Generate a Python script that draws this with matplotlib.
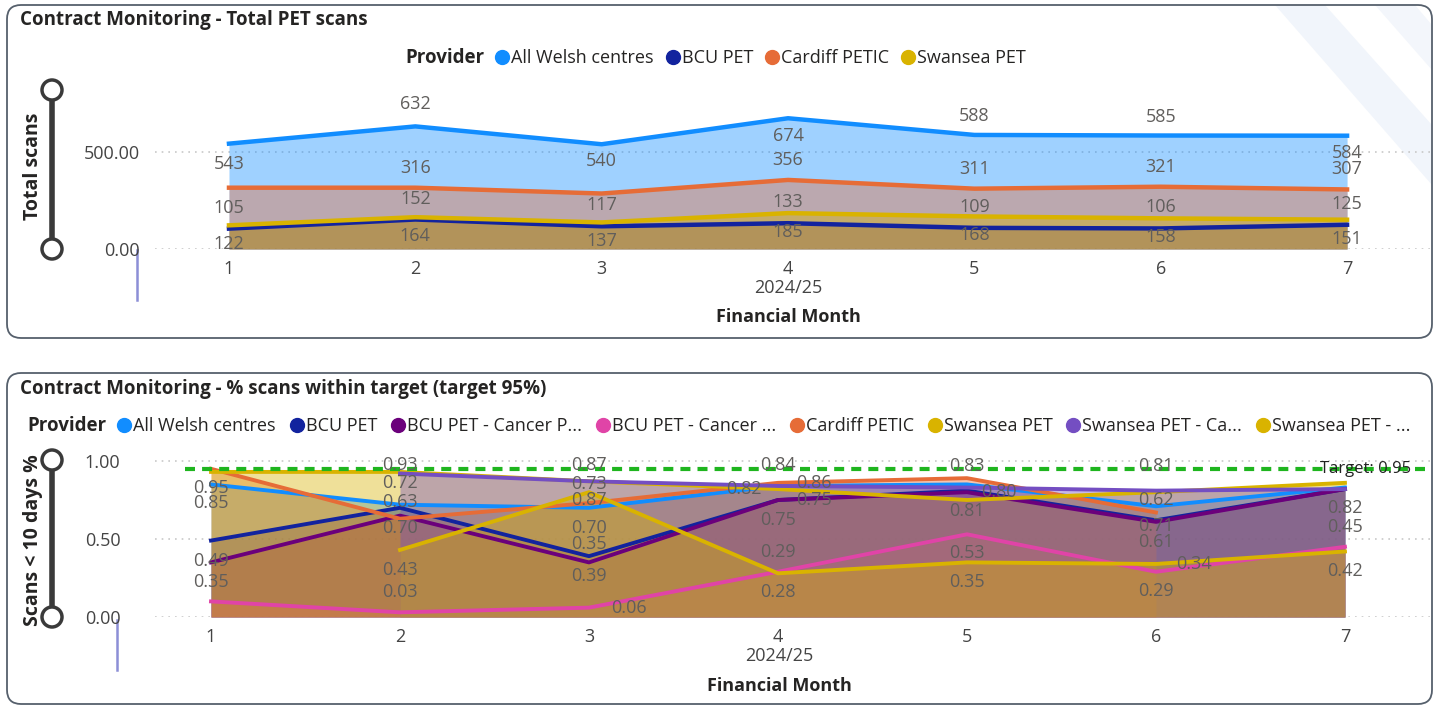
import matplotlib.pyplot as plt
import numpy as np
from matplotlib.lines import Line2D
from matplotlib.patches import FancyBboxPatch, Circle, Polygon

plt.rcParams['font.family'] = ['Open Sans', 'DejaVu Sans']

# ---- data ----
months = [1, 2, 3, 4, 5, 6, 7]
year_label = "2024/25"

# chart 1: total PET scans
scan_providers = ["All Welsh centres", "BCU PET", "Cardiff PETIC", "Swansea PET"]
scans_all = [543, 632, 540, 674, 588, 585, 584]
scans_bcu = [105, 152, 117, 133, 109, 106, 125]
scans_cardiff = [316, 316, 286, 356, 311, 321, 307]
scans_swansea = [122, 164, 137, 185, 168, 158, 151]

# chart 2: % scans within target
pct_providers = ["All Welsh centres", "BCU PET", "BCU PET - Cancer P...", "BCU PET - Cancer ...",
                 "Cardiff PETIC", "Swansea PET", "Swansea PET - Ca...", "Swansea PET - ..."]
nan = np.nan
pct_all = [0.85, 0.72, 0.70, 0.84, 0.85, 0.71, 0.83]
pct_bcu = [0.49, 0.70, 0.39, 0.75, 0.81, 0.62, 0.82]
pct_bcu_cp = [0.35, 0.65, 0.35, 0.75, 0.80, 0.61, 0.82]
pct_bcu_c = [0.10, 0.03, 0.06, 0.29, 0.53, 0.29, 0.45]
pct_cardiff = [0.95, 0.63, 0.73, 0.86, 0.89, 0.67, nan]
pct_swansea = [0.93, 0.93, 0.87, 0.82, 0.75, 0.80, 0.86]
pct_swansea_ca = [nan, 0.92, 0.87, 0.84, 0.83, 0.81, 0.82]
pct_swansea_o = [nan, 0.43, 0.80, 0.28, 0.35, 0.34, 0.42]
target = 0.95

# ---- styles ----
c_all, c_bcu, c_card, c_swan = "#118DFF", "#12239E", "#E66C37", "#D9B300"
c_bcp, c_bc, c_sca, c_so = "#6B007B", "#E044A7", "#744EC2", "#D9B300"
txt = "#252423"
lab = "#605E5C"
fs = 13      # regular text
fsb = 13.5   # bold headings

# label offsets in pixels (dx, dy up), None = label hidden
off1 = {
    "all": [(0, -20), (0, 22), (0, -17), (0, -18), (0, 19), (0, 19), (0, -17)],
    "bcu": [(0, 21)] * 7,
    "card": [None, (0, 20), None, (0, 20), (0, 20), (0, 20), (0, 20)],
    "swan": [(0, -19)] * 7,
}
off2 = [
    [(0, -19), (0, 22), (0, -20), None, None, (0, -20), None],
    [(0, -20), (0, -20), (0, -20), (36, 0), (0, -20), (0, 20), None],
    [(0, -20), None, (0, 18), (0, -20), (32, 0), (0, -20), None],
    [None, (0, 20), (40, 0), (0, 20), (0, -19), (0, -19), (0, 20)],
    [(0, -19), (0, 17), (0, 19), (36, 0), None, None, None],
    [None, (0, 7), (0, -19), (-34, 0), None, None, None],
    [None, None, (0, 16), (0, 21), (0, 22), (0, 25), (0, -19)],
    [None, (0, -20), None, (0, -19), (0, -20), (38, 0), (0, -20)],
]

W, H = 1439, 706
fig = plt.figure(figsize=(W / 100, H / 100), dpi=100)

bg = fig.add_axes([0, 0, 1, 1])
bg.set_xlim(0, W)
bg.set_ylim(H, 0)
bg.axis("off")

# faint background stripes (top right)
bg.add_patch(Polygon([(1275, 5), (1325, 5), (1432, 125), (1432, 185)], closed=True,
                     fc="#F1F5FB", ec="none"))
bg.add_patch(Polygon([(1375, 5), (1415, 5), (1432, 25), (1432, 70)], closed=True,
                     fc="#F3F6FB", ec="none"))

for y0, h in [(5, 333), (373, 331)]:
    bg.add_patch(FancyBboxPatch((7, y0), 1425, h, boxstyle="round,pad=0,rounding_size=14",
                                fc="none", ec="#56606C", lw=1.3))

# slider decorations
for top, bot, lx, ly0 in [(90, 249, 137, 250), (460, 617, 117, 620)]:
    bg.plot([52, 52], [top, bot], color="#3A3A3A", lw=4, solid_capstyle="butt")
    for cy in (top, bot):
        bg.add_patch(Circle((52, cy), 10, fc="white", ec="#3A3A3A", lw=2.5, zorder=3))
    bg.plot([lx, lx], [ly0, ly0 + 50], color="#8C8FD6", lw=1.8)

# titles
bg.text(20, 20, "Contract Monitoring - Total PET scans", fontsize=fsb, fontweight="bold",
        color=txt, va="center", ha="left")
bg.text(20, 389, "Contract Monitoring - % scans within target (target 95%)", fontsize=fsb,
        fontweight="bold", color=txt, va="center", ha="left")


def px_axes(l, t, r, b):
    a = fig.add_axes([l / W, 1 - b / H, (r - l) / W, (b - t) / H])
    a.set_facecolor("none")
    for s in a.spines.values():
        s.set_visible(False)
    a.tick_params(length=0, labelsize=fs, labelcolor="#444444")
    return a


def legend(names, colors, x0, y, title_x, spacing):
    bg.text(title_x, y, "Provider", fontsize=fsb, fontweight="bold", color=txt,
            va="center", ha="left")
    handles = [Line2D([], [], marker="o", ls="", color=c, markersize=10) for c in colors]
    fig.legend(handles, names, loc="center left", bbox_to_anchor=(x0 / W, 1 - y / H),
               ncol=len(names), frameon=False, fontsize=fs, handlelength=0.6,
               handletextpad=0.2, columnspacing=spacing, borderpad=0, borderaxespad=0,
               labelcolor=txt)


# ---- chart 1 ----
ax1 = px_axes(155, 90, 1430, 249)
ax1.set_xlim(0.603, 7.445)
ax1.set_ylim(0, 159 / 0.194)
series1 = [(scans_all, c_all, "all"), (scans_bcu, c_bcu, "bcu"),
           (scans_cardiff, c_card, "card"), (scans_swansea, c_swan, "swan")]
for vals, c, k in series1:
    ax1.fill_between(months, 0, vals, color=c, alpha=0.4, lw=0, zorder=1)
for vals, c, k in series1:
    ax1.plot(months, vals, color=c, lw=3.2, zorder=3)
for vals, c, k in series1:
    for m, v, o in zip(months, vals, off1[k]):
        if o is None:
            continue
        ax1.annotate(f"{v}", (m, v), xytext=o, textcoords="offset pixels", ha="center",
                     va="center", fontsize=fs, color=lab, zorder=5)
ax1.set_yticks([0, 500])
ax1.set_yticklabels(["0.00", "500.00"])
ax1.set_xticks(months)
ax1.yaxis.grid(True, ls=(0, (1, 3)), color="#C8C8C8", lw=1.2)
ax1.set_axisbelow(True)
ax1.tick_params(axis="y", pad=11)
ax1.tick_params(axis="x", pad=8)
bg.text(788, 288, year_label, fontsize=fs, color="#444444", ha="center", va="center")
bg.text(788, 317, "Financial Month", fontsize=fs, fontweight="bold", color=txt,
        ha="center", va="center")
bg.text(33, 166, "Total scans", fontsize=14, fontweight="bold", color=txt, rotation=90,
        ha="center", va="center")
legend(scan_providers, [c_all, c_bcu, c_card, c_swan], 497, 58, 405, 0.75)

# ---- chart 2 ----
ax2 = px_axes(155, 453, 1430, 617)
ax2.set_xlim(0.7037, 7.45)
ax2.set_ylim(0, 164 / 156)
series2 = [pct_all, pct_bcu, pct_bcu_cp, pct_bcu_c, pct_cardiff, pct_swansea,
           pct_swansea_ca, pct_swansea_o]
colors2 = [c_all, c_bcu, c_bcp, c_bc, c_card, c_swan, c_sca, c_so]
for vals, c in zip(series2, colors2):
    ax2.fill_between(months, 0, vals, color=c, alpha=0.4, lw=0, zorder=1)
for vals, c in zip(series2, colors2):
    ax2.plot(months, vals, color=c, lw=2.8, zorder=3)
for vals, offs in zip(series2, off2):
    for m, v, o in zip(months, vals, offs):
        if o is None or np.isnan(v):
            continue
        ax2.annotate(f"{v:.2f}", (m, v), xytext=o, textcoords="offset pixels", ha="center",
                     va="center", fontsize=fs, color=lab, zorder=5)
ax2.axhline(target, xmin=30 / 1275, color="#1FB51F", lw=3, dashes=(2.4, 1.7), zorder=4)
ax2.text((1411 - 155) / 1275, target, f"Target: {target:.2f}", transform=ax2.get_yaxis_transform(),
         ha="right", va="center", fontsize=12, color="#222222", zorder=6)
ax2.set_yticks([0, 0.5, 1.0])
ax2.set_yticklabels(["0.00", "0.50", "1.00"])
ax2.set_xticks(months)
ax2.yaxis.grid(True, ls=(0, (1, 3)), color="#C8C8C8", lw=1.2)
ax2.set_axisbelow(True)
ax2.tick_params(axis="y", pad=25)
ax2.tick_params(axis="x", pad=8)
bg.text(779, 656, year_label, fontsize=fs, color="#444444", ha="center", va="center")
bg.text(779, 686, "Financial Month", fontsize=fs, fontweight="bold", color=txt,
        ha="center", va="center")
bg.text(33, 540, "Scans < 10 days %", fontsize=14, fontweight="bold", color=txt, rotation=90,
        ha="center", va="center")
legend(pct_providers, colors2, 119, 426, 27, 0.85)

fig.savefig("out.png", dpi=100)
